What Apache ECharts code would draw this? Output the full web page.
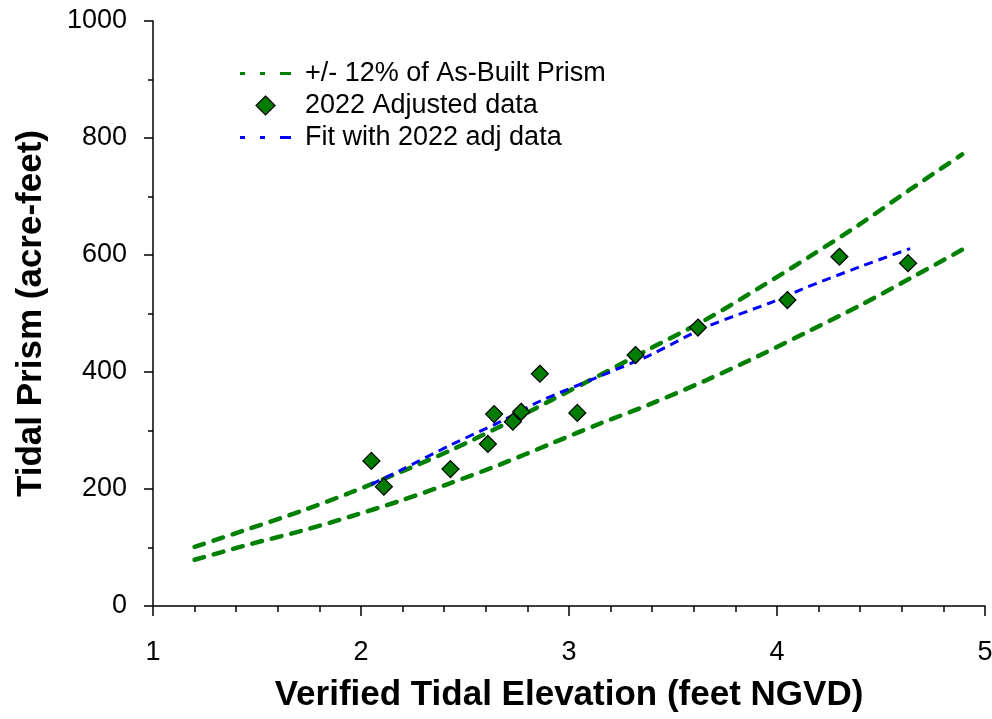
<!DOCTYPE html>
<html>
<head>
<meta charset="utf-8">
<script src="https://cdn.jsdelivr.net/npm/echarts@6/dist/echarts.min.js"></script>
<style>
html,body{margin:0;padding:0;background:#fff;}
#chart{width:992px;height:719px;}
</style>
</head>
<body>
<div id="chart"></div>
<script>
// Envelope lines (+/- 12% of as-built prism)
const envX   = [1.2, 1.47, 1.71, 1.95, 2.19, 2.43, 2.67, 2.91, 3.15, 3.39, 3.66, 3.92, 4.16, 4.4, 4.64, 4.89];
const upperY = [101, 133, 162, 194, 229, 266, 307, 351, 395, 440, 490, 545, 598, 653, 712, 772];
const lowerY = [79, 106, 128, 153, 180, 210, 242, 277, 312, 345, 386, 429, 471, 514, 560, 609];
// 2022 adjusted data
const dataX = [2.05, 2.11, 2.43, 2.61, 2.64, 2.73, 2.77, 2.86, 3.04, 3.32, 3.62, 4.05, 4.30, 4.63];
const dataY = [248, 204, 234, 277, 328, 315, 332, 397, 330, 429, 476, 523, 597, 586];
// Fit with 2022 adj data
const fitX = [2.05, 2.19, 2.43, 2.67, 2.86, 3.15, 3.39, 3.66, 3.98, 4.13, 4.4, 4.64];
const fitY = [208, 232, 275, 315, 350, 393, 429, 477, 520, 543, 580, 611];

const envName = '+/- 12% of As-Built Prism';
const dataName = '2022 Adjusted data';
const fitName = 'Fit with 2022 adj data';

const zip = (xs, ys) => xs.map((x, i) => [x, ys[i]]);
const FONT = '"Liberation Sans", Arial, sans-serif';

// legend icon shapes (short-dash line sample, diamond)
const dashIcon = 'path://M0,0h5v3h-5z M20,0h5v3h-5z M40,0h11v3h-11z';
const diamondIcon = 'path://M8.5,0L17,8.5L8.5,17L0,8.5Z';

const chart = echarts.init(document.getElementById('chart'), null, {renderer: 'canvas'});
const envStyle = {color: '#008000', width: 4.5, type: [10, 10], cap: 'round'};
chart.setOption({
  animation: false,
  backgroundColor: '#fff',
  textStyle: {fontFamily: FONT},
  grid: {left: 153, right: 7, top: 21, bottom: 113, containLabel: false, outerBoundsMode: 'none'},
  legend: {
    orient: 'vertical', left: 235, top: 55,
    itemWidth: 51, itemHeight: 19, itemGap: 5,
    symbolKeepAspect: true,
    textStyle: {fontFamily: FONT, fontSize: 27, color: '#000', padding: [0, 0, 0, 9]},
    data: [
      {name: envName, icon: dashIcon, itemStyle: {color: '#008000', borderWidth: 0}},
      {name: dataName, icon: diamondIcon, itemStyle: {color: '#007d00', borderColor: '#000', borderWidth: 1.2}},
      {name: fitName, icon: dashIcon, itemStyle: {color: '#0000ff', borderWidth: 0}}
    ]
  },
  xAxis: {
    type: 'value', min: 1, max: 5, interval: 1,
    name: 'Verified Tidal Elevation (feet NGVD)', nameLocation: 'middle', nameGap: 72,
    nameTextStyle: {fontFamily: FONT, fontSize: 35, fontWeight: 'bold', color: '#000'},
    axisLine: {show: true, onZero: false, lineStyle: {color: '#000', width: 1.5}},
    axisTick: {show: true, inside: false, length: 10, lineStyle: {color: '#000', width: 1.5}},
    minorTick: {show: true, splitNumber: 5, length: 6, lineStyle: {color: '#000', width: 1.5}},
    splitLine: {show: false},
    axisLabel: {fontFamily: FONT, fontSize: 27, color: '#000', margin: 33, formatter: v => String(v)}
  },
  yAxis: {
    type: 'value', min: 0, max: 1000, interval: 200,
    name: 'Tidal Prism (acre-feet)', nameLocation: 'middle', nameGap: 104, nameRotate: 90,
    nameTextStyle: {fontFamily: FONT, fontSize: 35, fontWeight: 'bold', color: '#000'},
    axisLine: {show: true, onZero: false, lineStyle: {color: '#000', width: 1.5}},
    axisTick: {show: true, inside: false, length: 9, lineStyle: {color: '#000', width: 1.5}},
    minorTick: {show: true, splitNumber: 2, length: 5, lineStyle: {color: '#000', width: 1.5}},
    splitLine: {show: false},
    axisLabel: {fontFamily: FONT, fontSize: 27, color: '#000', margin: 26, formatter: v => String(v)}
  },
  series: [
    {name: envName, type: 'line', data: zip(envX, upperY), symbol: 'none', smooth: 0.3,
     lineStyle: envStyle, itemStyle: {color: '#008000'}, z: 2},
    {name: envName, type: 'line', data: zip(envX, lowerY), symbol: 'none', smooth: 0.3,
     lineStyle: envStyle, itemStyle: {color: '#008000'}, z: 2},
    {name: dataName, type: 'scatter', data: zip(dataX, dataY), symbol: 'diamond', symbolSize: 17,
     itemStyle: {color: '#007d00', opacity: 1, borderColor: '#000', borderWidth: 1.2}, z: 5},
    {name: fitName, type: 'line', data: zip(fitX, fitY), symbol: 'none', smooth: 0.3,
     lineStyle: {color: '#0000ff', width: 3, type: [9, 6]}, itemStyle: {color: '#0000ff'}, z: 3}
  ]
});
</script>
</body>
</html>
